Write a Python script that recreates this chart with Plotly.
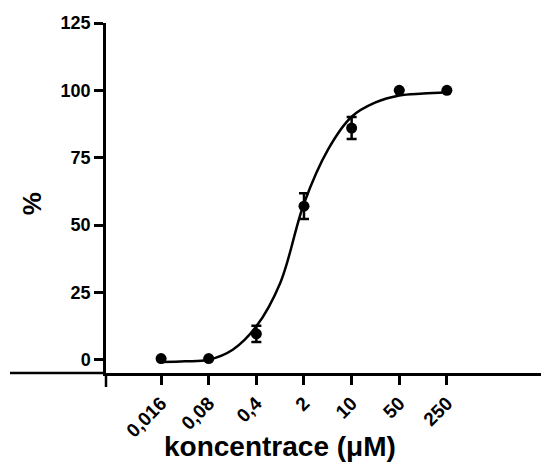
import plotly.graph_objects as go

# concentrations (µM) and measured responses (%)
conc = [0.016, 0.08, 0.4, 2, 10, 50, 250]
resp = [0.4, 0.4, 9.6, 57.0, 86.0, 100.0, 100.0]
err = [0, 0, 3.0, 4.8, 4.1, 0, 0]

# fitted curve
curve_x = [0.016, 0.036, 0.08, 0.18, 0.4, 0.9, 2, 4.5, 10, 22, 50, 112, 250]
curve_y = [-0.9, -0.6, 0.0, 3.7, 12.4, 28.6, 58.0, 78.0, 90.2, 95.4, 98.1, 98.8, 99.3]

tick_vals = [0.016, 0.08, 0.4, 2, 10, 50, 250]
tick_text = ["0,016", "0,08", "0,4", "2", "10", "50", "250"]
y_ticks = [0, 25, 50, 75, 100, 125]

FONT = "Liberation Sans, Arial, sans-serif"

fig = go.Figure()
fig.add_trace(go.Scatter(x=curve_x, y=curve_y, mode="lines",
                         line=dict(color="black", width=2.5, shape="spline"),
                         hoverinfo="skip", showlegend=False))
fig.add_trace(go.Scatter(x=conc, y=resp, mode="markers",
                         marker=dict(color="black", size=11),
                         error_y=dict(type="data", array=err, visible=True,
                                      color="black", thickness=2.5, width=5),
                         showlegend=False))

# page body has an 8px margin, so the figure is 8px smaller than the window
fig.update_layout(
    width=541, height=455,
    margin=dict(l=98, r=0, t=15, b=90),
    plot_bgcolor="white", paper_bgcolor="white",
    font=dict(family=FONT, color="black"),
    xaxis=dict(type="log", range=[-2.604, 3.896], tickvals=tick_vals, ticktext=tick_text,
               tickangle=-45, showgrid=False, zeroline=False, automargin=False,
               showline=True, linecolor="black", linewidth=2.5,
               ticks="outside", ticklen=9, tickwidth=2.5, tickcolor="black",
               tickfont=dict(family=FONT, size=19, color="black", weight="bold")),
    yaxis=dict(range=[-4.94, 125], tickvals=y_ticks, showgrid=False, zeroline=False,
               automargin=False,
               showline=True, linecolor="black", linewidth=2.5,
               ticks="outside", ticklen=9, tickwidth=2.5, tickcolor="black",
               tickfont=dict(family=FONT, size=18, color="black", weight="bold")),
    shapes=[
        dict(type="line", xref="paper", yref="paper", x0=-0.2167, x1=0, y0=0, y1=0,
             line=dict(color="black", width=2.5)),
        dict(type="line", xref="paper", yref="paper", x0=0, x1=0, y0=-0.04, y1=0,
             line=dict(color="black", width=2.5)),
    ],
    annotations=[
        dict(text="koncentrace (\u03bcM)", xref="paper", yref="paper", x=0.392, y=-0.211,
             xanchor="center", yanchor="middle", showarrow=False,
             font=dict(family=FONT, size=28, color="black", weight="bold")),
        dict(text="%", xref="paper", yref="paper", x=-0.168, y=0.484, textangle=-90,
             xanchor="center", yanchor="middle", showarrow=False,
             font=dict(family=FONT, size=26, color="black", weight="bold")),
    ],
)

fig.write_html("out.html")
